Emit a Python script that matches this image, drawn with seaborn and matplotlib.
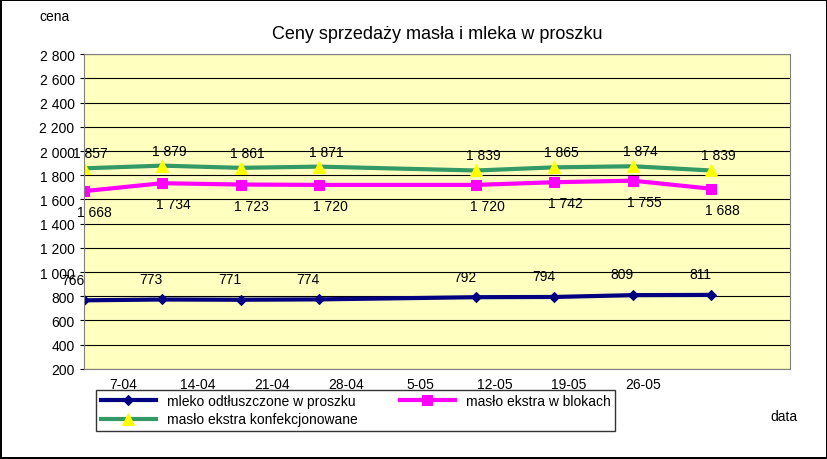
import matplotlib
matplotlib.use("Agg")
import matplotlib.pyplot as plt
import seaborn as sns
import pandas as pd

plt.rcParams["font.family"] = "Liberation Sans"

tick_labels = ["31-03", "7-04", "14-04", "21-04", "28-04", "5-05", "12-05", "19-05", "26-05"]
point_pos = [0, 1, 2, 3, 5, 6, 7, 8]
mleko = [766, 773, 771, 774, 792, 794, 809, 811]
bloki = [1668, 1734, 1723, 1720, 1720, 1742, 1755, 1688]
konf = [1857, 1879, 1861, 1871, 1839, 1865, 1874, 1839]

def fmt(v):
    return f"{v:,}".replace(",", " ")

fig = plt.figure(figsize=(8.28, 4.6), dpi=100)
fig.patch.set_edgecolor("black")
fig.patch.set_linewidth(1.5)
ax = fig.add_axes([0.101, 0.196, 0.853, 0.684])
ax.set_facecolor("#FFFFC0")

df = pd.DataFrame({"x": point_pos * 3,
                   "y": mleko + bloki + konf,
                   "s": ["mleko odtłuszczone w proszku"] * 8 + ["masło ekstra w blokach"] * 8 + ["masło ekstra konfekcjonowane"] * 8})
styles = {"mleko odtłuszczone w proszku": ("#000080", "D", "#000080", 5),
          "masło ekstra w blokach": ("#FF00FF", "s", "#FF00FF", 7),
          "masło ekstra konfekcjonowane": ("#339966", "^", "#FFFF00", 8)}
for name, (c, m, mc, ms) in styles.items():
    d = df[df.s == name]
    sns.lineplot(data=d, x="x", y="y", ax=ax, color=c, lw=3, marker=m, markersize=ms,
                 markerfacecolor=mc, markeredgecolor=mc, label=name)

for x, v in zip(point_pos, mleko):
    ax.annotate(fmt(v), (x, v), xytext=(-8, 12), textcoords="offset points", ha="center", fontsize=10)
for x, v in zip(point_pos, bloki):
    ax.annotate(fmt(v), (x, v), xytext=(8, -18), textcoords="offset points", ha="center", fontsize=10)
for x, v in zip(point_pos, konf):
    ax.annotate(fmt(v), (x, v), xytext=(5, 8), textcoords="offset points", ha="center", fontsize=10)

yt = list(range(200, 2801, 200))
ax.set_yticks(yt)
ax.set_yticklabels([fmt(v) for v in yt], fontsize=10)
ax.set_xticks([-0.44 + i * 0.946 for i in range(9)])
ax.set_xticklabels(tick_labels, fontsize=10)
ax.set_xlim(0, 9)
ax.set_ylim(200, 2800)
ax.tick_params(axis="x", length=0, pad=6)
ax.tick_params(axis="y", length=3)
ax.grid(axis="y", color="black", lw=0.8)
ax.set_axisbelow(True)
for s in ax.spines.values():
    s.set_color("#808080")
ax.set_xlabel("")
ax.set_ylabel("")
ax.set_title("Ceny sprzedaży masła i mleka w proszku", fontsize=13, pad=12)
fig.text(0.048, 0.955, "cena", fontsize=10)
fig.text(0.93, 0.085, "data", fontsize=10)

h, l = ax.get_legend_handles_labels()
ax.legend_.remove()
order = [0, 2, 1]
leg = fig.legend([h[i] for i in order], [l[i] for i in order], loc="upper left",
                 bbox_to_anchor=(0.108, 0.165), ncol=2, frameon=True,
                 fancybox=False, edgecolor="black", fontsize=10, columnspacing=3, handlelength=4,
                 borderpad=0.3, labelspacing=0.3)
fig.savefig("out.png", dpi=100)
